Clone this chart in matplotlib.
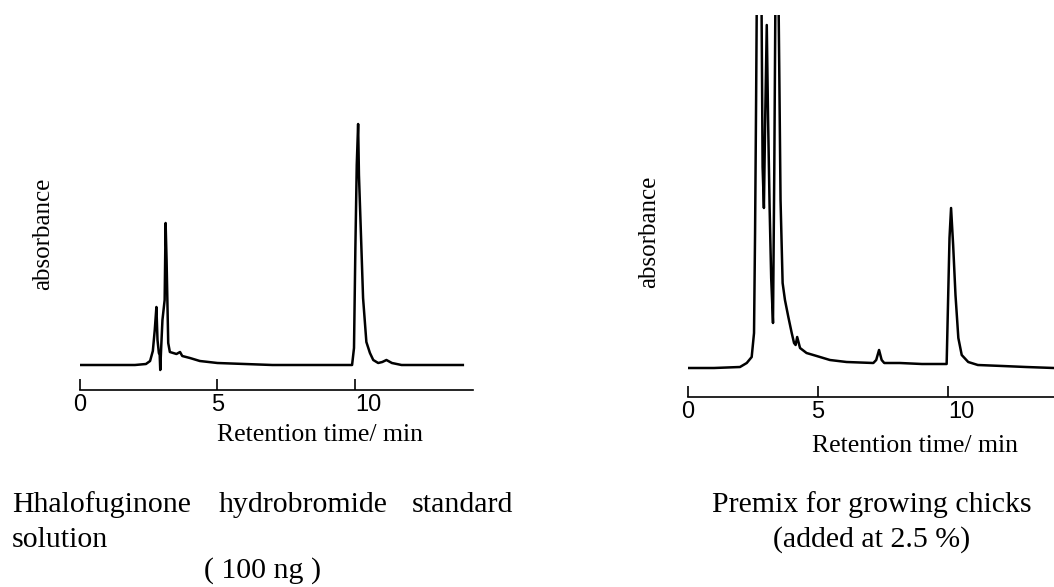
import matplotlib.pyplot as plt

# HPLC traces: retention time (min) vs absorbance
# (arbitrary units, baseline = 0)
std_time = [0.0, 1.0, 2.0, 2.40, 2.55, 2.65, 2.72, 2.78, 2.82, 2.87, 2.90, 2.92,
            2.95, 3.00, 3.08, 3.115, 3.15, 3.21, 3.27, 3.39, 3.51, 3.64, 3.72,
            4.0, 4.36, 5.0, 6.0, 7.0, 8.0, 9.0, 9.9, 9.97, 10.02, 10.07, 10.12,
            10.15, 10.22, 10.30, 10.42, 10.55, 10.67, 10.85, 11.0, 11.15, 11.35,
            11.7, 12.5, 13.2, 13.93]
std_abs = [0, 0, 0, 1, 4, 14, 35, 58, 25, 12, 10, -5,
           15, 45, 65, 142, 105, 22, 13, 12, 11, 13, 9,
           7, 4, 2, 1, 0, 0, 0, 0, 17, 117, 200, 241,
           190, 133, 67, 23, 12, 5, 2, 3, 5, 2,
           0, 0, 0, 0]

premix_time = [0.0, 1.0, 2.0, 2.26, 2.45, 2.54, 2.58, 2.62, 2.66, 2.74, 2.82,
               2.87, 2.92, 2.97, 3.03, 3.08, 3.14, 3.20, 3.27, 3.32, 3.37, 3.42,
               3.47, 3.51, 3.56, 3.64, 3.73, 3.86, 3.99, 4.08, 4.14, 4.20, 4.31,
               4.56, 4.95, 5.46, 6.1, 7.13, 7.24, 7.35, 7.45, 7.55, 8.15, 9.0,
               9.95, 10.01, 10.06, 10.12, 10.20, 10.29, 10.40, 10.53, 10.78,
               11.15, 12.1, 13.0, 14.08]
premix_abs = [0, 0, 1, 5, 11, 35, 135, 268, 420, 480, 400,
              201, 160, 250, 343, 250, 160, 90, 45, 200, 400, 480,
              400, 301, 168, 85, 68, 51, 35, 25, 23, 31, 20,
              15, 12, 8, 6, 5, 8, 18, 8, 5, 5, 4,
              4, 73, 130, 160, 123, 73, 30, 13, 6,
              3, 2, 1, 0]

tick_values = [0, 5, 10]
tick_labels = ["0", "5", "10"]

W, H = 1054, 587
SERIF = "Liberation Serif"


def px_box(left, right, top, bottom):
    return [left / W, 1 - bottom / H, (right - left) / W, (bottom - top) / H]


def px_text(fig, x, y, s, **kw):
    kw.setdefault("family", SERIF)
    kw.setdefault("va", "baseline")
    fig.text(x / W, 1 - y / H, s, **kw)


def draw_chromatogram(ax, t, a, xmax, ylim):
    ax.plot(t, a, color="black", lw=1.8, solid_joinstyle="round")
    ax.set_xlim(0, xmax)
    ax.set_ylim(*ylim)
    for side in ("left", "right", "top"):
        ax.spines[side].set_visible(False)
    ax.spines["bottom"].set_linewidth(1.2)
    ax.set_yticks([])
    ax.set_xticks(tick_values)
    ax.set_xticklabels(tick_labels, family="Liberation Sans", fontsize=17)
    ax.tick_params(axis="x", direction="in", length=8, width=1.2, pad=3)
    for lab in ax.get_xticklabels():
        if lab.get_text() == "10":
            lab.set_ha("left")
    ax.patch.set_visible(False)


fig = plt.figure(figsize=(W / 100, H / 100), dpi=100)

ax_std = fig.add_axes(px_box(80, 473, 110, 390))
draw_chromatogram(ax_std, std_time, std_abs, 14.3, (-25, 255))

ax_mix = fig.add_axes(px_box(688, 1054, 15, 397))
draw_chromatogram(ax_mix, premix_time, premix_abs, 14.08, (-29, 353))

# axis titles
px_text(fig, 43, 234, "absorbance", rotation=90, fontsize=18, ha="center", va="center")
px_text(fig, 649, 232, "absorbance", rotation=90, fontsize=18, ha="center", va="center")
px_text(fig, 320, 441, "Retention time/ min", fontsize=18.5, ha="center")
px_text(fig, 915, 452, "Retention time/ min", fontsize=18.5, ha="center")

# captions
cap = 21.5
px_text(fig, 12, 512, "Hhalofuginone", fontsize=cap, ha="left")
px_text(fig, 303, 512, "hydrobromide", fontsize=cap, ha="center")
px_text(fig, 513, 512, "standard", fontsize=cap, ha="right")
px_text(fig, 12, 547, "solution", fontsize=cap, ha="left")
px_text(fig, 263, 578, "( 100 ng )", fontsize=cap, ha="center")
px_text(fig, 872, 512, "Premix for growing chicks", fontsize=cap, ha="center")
px_text(fig, 872, 547, "(added at 2.5 %)", fontsize=cap, ha="center")

fig.savefig("out.png", dpi=100)
